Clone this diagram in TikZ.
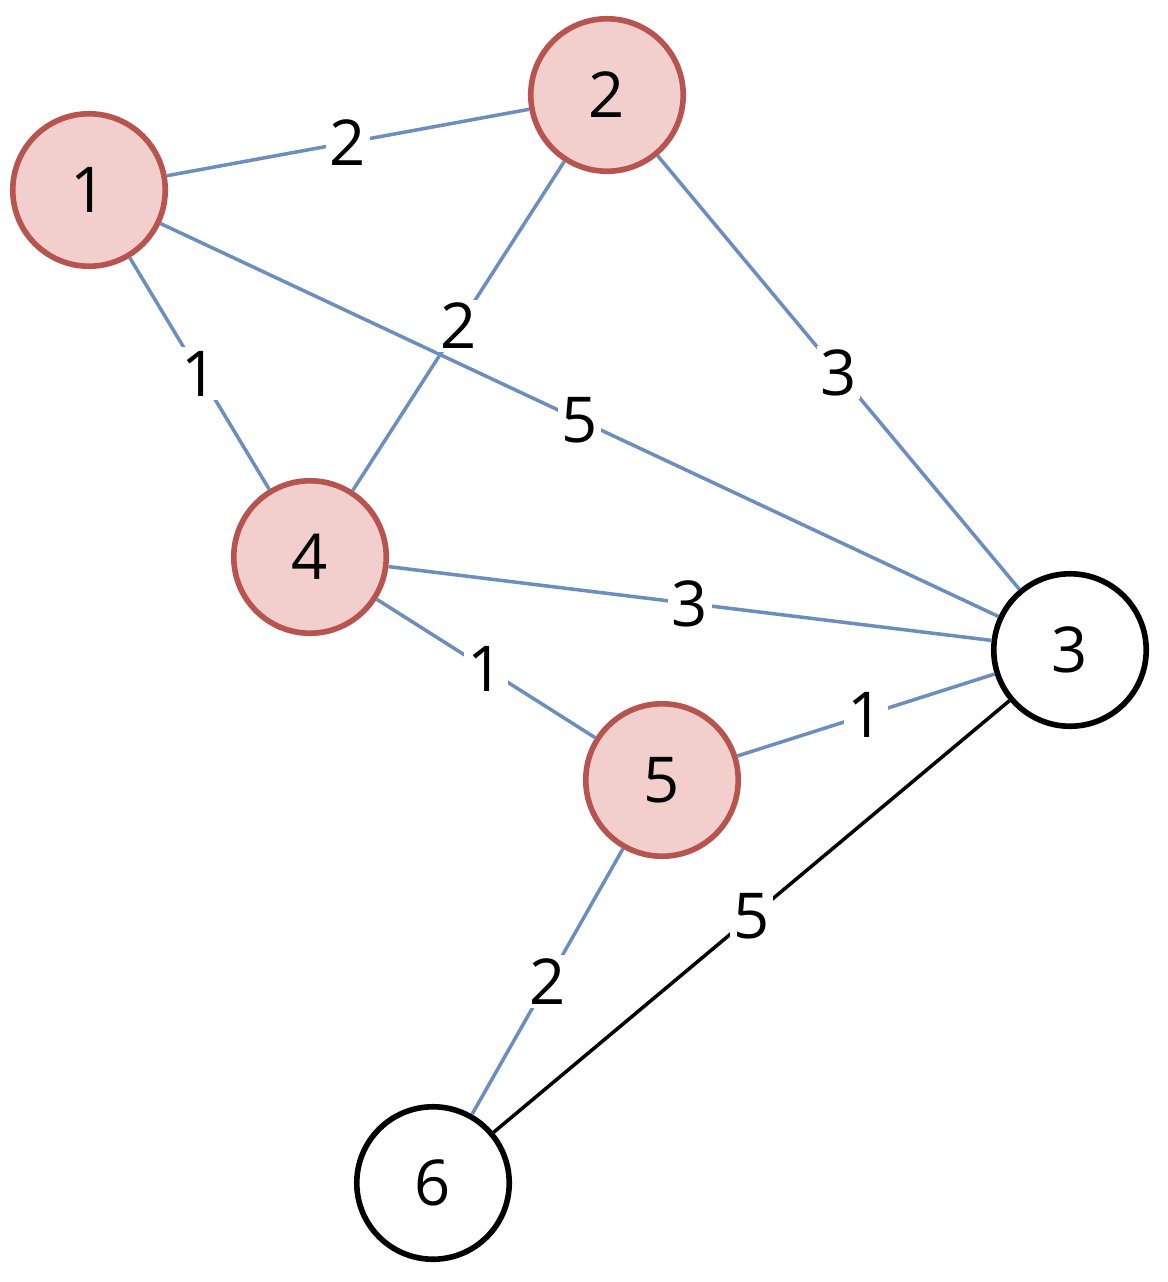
\documentclass[tikz,border=0pt]{standalone}
\usepackage{fontspec}
\setmainfont{Open Sans}
\begin{document}
\begin{tikzpicture}[x=0.02cm,y=-0.02cm]
  \useasboundingbox (0,0) rectangle (1168,1282);
  \tikzstyle{VertexStyle}=[circle,minimum size=3.05cm,line width=3.2pt,
    font=\fontsize{36}{40}\selectfont,inner sep=0pt]
  \tikzstyle{Visited}=[VertexStyle,draw={rgb,255:red,184;green,84;blue,80},
    fill={rgb,255:red,242;green,207;blue,204}]
  \tikzstyle{Open}=[VertexStyle,draw=black,fill=white]
  \node[Visited] (1) at (89,190) {1};
  \node[Visited] (2) at (607,95) {2};
  \node[Open]    (3) at (1070,650) {3};
  \node[Visited] (4) at (310,557) {4};
  \node[Visited] (5) at (662,780) {5};
  \node[Open]    (6) at (433,1183) {6};
  \tikzstyle{LabelStyle}=[fill=white,inner sep=2pt,font=\fontsize{36}{40}\selectfont]
  \tikzstyle{EdgeStyle}=[draw={rgb,255:red,108;green,142;blue,191},line width=2pt]
  \draw[EdgeStyle] (1) -- node[LabelStyle]{2} (2);
  \draw[EdgeStyle] (1) -- node[LabelStyle]{1} (4);
  \draw[EdgeStyle] (1) -- node[LabelStyle]{5} (3);
  \draw[EdgeStyle] (2) -- node[LabelStyle]{2} (4);
  \draw[EdgeStyle] (2) -- node[LabelStyle]{3} (3);
  \draw[EdgeStyle] (4) -- node[LabelStyle]{3} (3);
  \draw[EdgeStyle] (4) -- node[LabelStyle]{1} (5);
  \draw[EdgeStyle] (5) -- node[LabelStyle]{1} (3);
  \draw[EdgeStyle] (5) -- node[LabelStyle]{2} (6);
  \tikzstyle{EdgeStyle}=[draw=black,line width=2pt]
  \draw[EdgeStyle] (3) -- node[LabelStyle]{5} (6);
\end{tikzpicture}
\end{document}
